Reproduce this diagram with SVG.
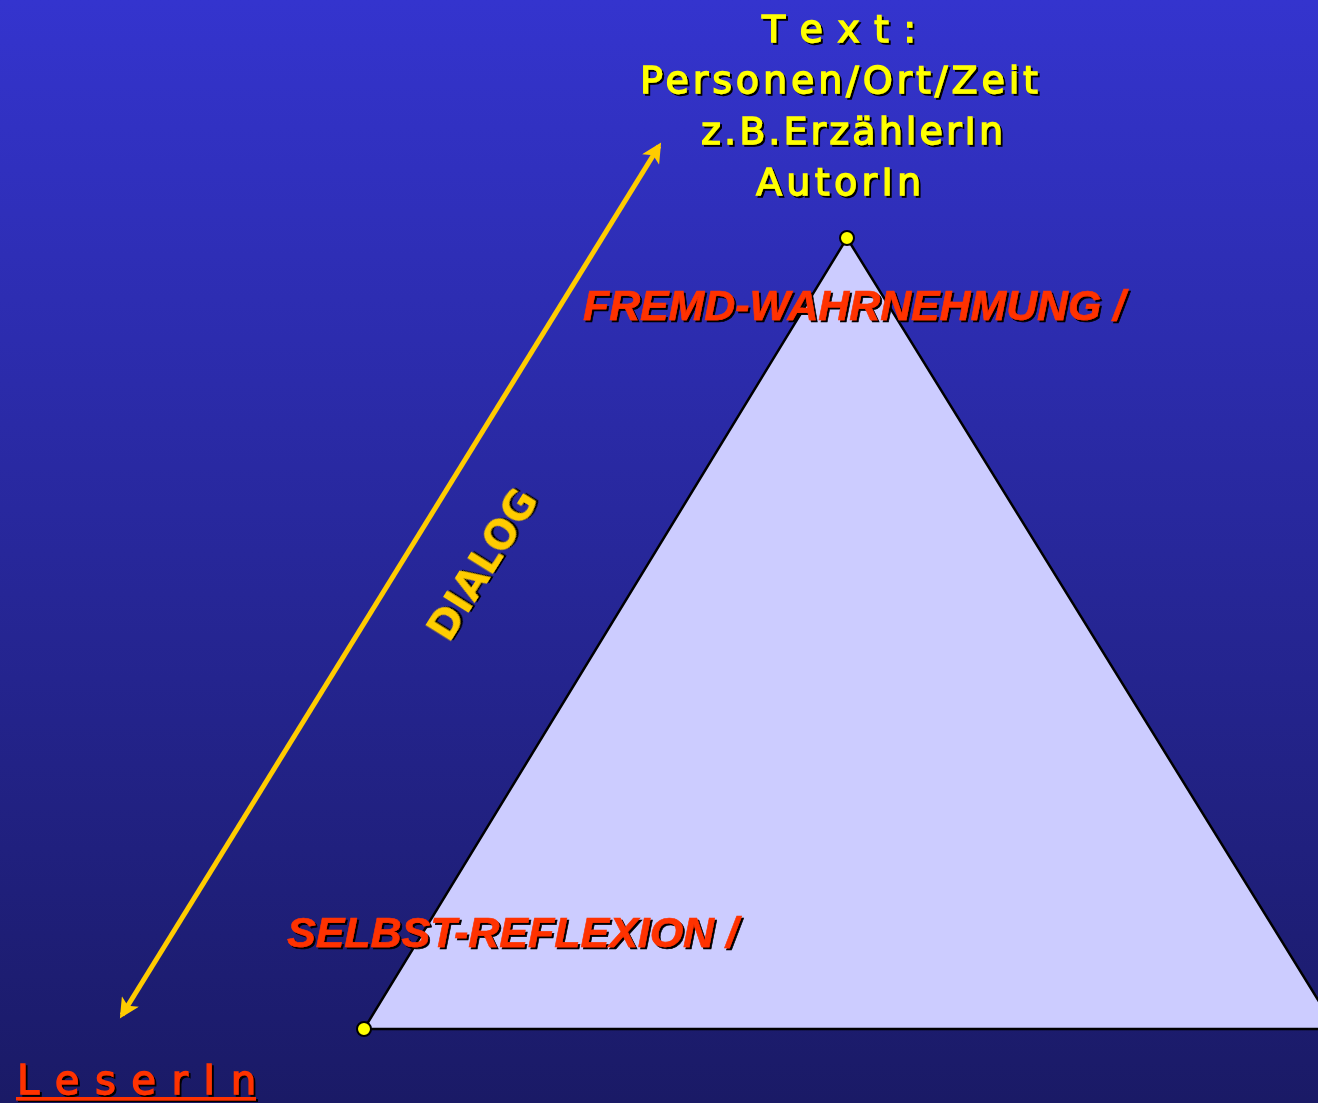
<svg xmlns="http://www.w3.org/2000/svg" width="1318" height="1103" viewBox="0 0 1318 1103">
<defs>
<linearGradient id="bg" x1="0" y1="0" x2="0" y2="1">
<stop offset="0" stop-color="#3434CE"/>
<stop offset="1" stop-color="#1A1A66"/>
</linearGradient>
<filter id="sh" x="-10%" y="-10%" width="120%" height="130%">
<feDropShadow dx="2" dy="2" stdDeviation="0.3" flood-color="#000" flood-opacity="1"/>
</filter>
<marker id="ah" viewBox="0 0 10 10" refX="8" refY="5" markerWidth="4.4" markerHeight="4" orient="auto-start-reverse" markerUnits="strokeWidth">
<path d="M0,0 L10,5 L0,10 L2.5,5 Z" fill="#FFCC00"/>
</marker>
<style>
.yt{font-family:"DejaVu Sans","Liberation Sans",sans-serif;font-size:38px;fill:#FFFF00;stroke:#FFFF00;stroke-width:1.3;filter:url(#sh);}
.rt{font-family:"Liberation Sans",Arial,sans-serif;font-size:42px;font-weight:bold;font-style:italic;fill:#FF3300;stroke:#FF3300;stroke-width:0.6;filter:url(#sh);}
.dl{font-family:"DejaVu Sans","Liberation Sans",sans-serif;font-size:40px;font-weight:bold;fill:#FFCC00;filter:url(#sh);}
.lt{font-family:"DejaVu Sans","Liberation Sans",sans-serif;font-size:40px;fill:#FF3300;stroke:#FF3300;stroke-width:1.3;filter:url(#sh);}
.dot{fill:#FFFF00;stroke:#000;stroke-width:2;}
</style>
</defs>
<rect x="0" y="0" width="1318" height="1103" fill="url(#bg)"/>
<g id="triangle">
<polygon points="847,238 364,1029 1336,1029" fill="#CCCCFF" stroke="#000" stroke-width="2.5"/>
</g>
<g id="connectors">
<line x1="122" y1="1015" x2="659" y2="146" stroke="#FFCC00" stroke-width="5" marker-start="url(#ah)" marker-end="url(#ah)"/>
</g>
<g id="node-text">
<text class="yt" x="762" y="42" textLength="154" lengthAdjust="spacing">T e x t :</text>
<text class="yt" x="640" y="93" textLength="398" lengthAdjust="spacing">Personen/Ort/Zeit</text>
<text class="yt" x="701" y="144" textLength="302" lengthAdjust="spacing">z.B.ErzählerIn</text>
<text class="yt" x="756" y="195" textLength="165" lengthAdjust="spacing">AutorIn</text>
<circle class="dot" cx="847" cy="238" r="7"/>
</g>
<g id="node-fremd">
<text class="rt" x="583" y="320" textLength="542" lengthAdjust="spacingAndGlyphs">FREMD-WAHRNEHMUNG /</text>
</g>
<g id="node-selbst">
<text class="rt" x="287" y="947" textLength="451" lengthAdjust="spacingAndGlyphs">SELBST-REFLEXION /</text>
<circle class="dot" cx="364" cy="1029" r="7"/>
</g>
<g id="node-dialog">
<text class="dl" x="0" y="0" text-anchor="middle" transform="translate(494,572) rotate(-58)">DIALOG</text>
</g>
<g id="node-leser">
<text class="lt" x="17" y="1094" textLength="239" lengthAdjust="spacing">L e s e r I n</text>
<rect x="16" y="1097" width="240" height="3.5" fill="#FF3300" filter="url(#sh)"/>
</g>
</svg>
